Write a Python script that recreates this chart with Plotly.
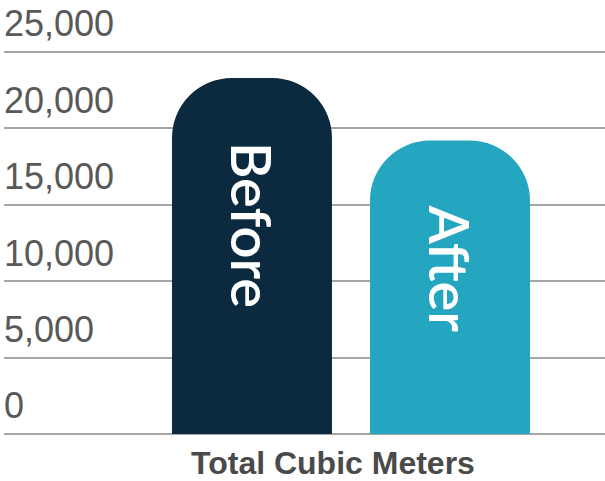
import plotly.graph_objects as go

categories = ["Before", "After"]
values = [23300, 19200]
bar_colors = ["#0b2a40", "#24a6c1"]
tick_vals = [0, 5000, 10000, 15000, 20000, 25000]
tick_text = ["0", "5,000", "10,000", "15,000", "20,000", "25,000"]
axis_title = "Total Cubic Meters"

fig = go.Figure()
fig.add_trace(go.Bar(
    x=categories, y=values, width=0.808,
    marker=dict(color=bar_colors, line=dict(width=0)),
    hoverinfo="skip", showlegend=False,
))

for cat, val in zip(categories, values):
    fig.add_annotation(
        x=cat, y=val, xref="x", yref="y",
        text=cat, textangle=90, showarrow=False,
        xanchor="center", yanchor="top", yshift=-62,
        font=dict(family="Lato", size=56, color="white", weight=600),
    )

fig.add_annotation(
    xref="paper", yref="paper", x=0.548, y=0, yanchor="top", yshift=-6,
    text="<b>" + axis_title + "</b>", showarrow=False,
    font=dict(family="Liberation Sans, Arial", size=32, color="#4a4a4a"),
)

fig.update_layout(
    width=605, height=481,
    margin=dict(l=4, r=0, t=0, b=44, autoexpand=False),
    paper_bgcolor="white", plot_bgcolor="white",
    barcornerradius=60,
    xaxis=dict(range=[-1.2525, 1.783], showticklabels=False, showgrid=False,
               zeroline=False, showline=False, ticks="", automargin=False),
    yaxis=dict(range=[-200, 28400], tickvals=tick_vals, ticktext=tick_text,
               ticklabelposition="inside top", showgrid=True, automargin=False,
               gridcolor="#a6a6a6", gridwidth=2, zeroline=False, showline=False,
               ticks="", ticklabelstandoff=-3, ticklabelshift=-3,
               tickfont=dict(family="Liberation Sans, Arial", size=36, color="#595959")),
)

fig.write_html("out.html", config={"displayModeBar": False},
               post_script="document.body.style.margin='0';")
